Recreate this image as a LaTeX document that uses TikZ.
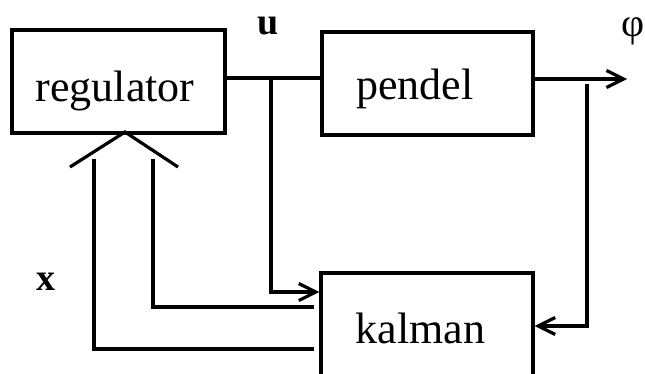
\documentclass[tikz,border=0pt]{standalone}
\usepackage{fontspec}
\setmainfont{Liberation Serif}
\usetikzlibrary{arrows.meta}
\begin{document}
\begin{tikzpicture}[x=1pt,y=-1pt,
  blk/.style={draw, line width=3.2pt, inner sep=0pt},
  txt/.style={font=\fontsize{44}{50}\selectfont, inner sep=0pt, anchor=base},
  wire/.style={line width=3.2pt},
  arr/.style={wire, -{Straight Barb[length=17pt,width=17pt]}},
  lbl/.style={font=\fontsize{38}{44}\selectfont\bfseries, inner sep=0pt, anchor=base}]
\clip (0,0) rectangle (645,374);
% blocks
\node[blk, minimum width=213pt, minimum height=103pt] (reg) at (118.5,81.5) {};
\node[blk, minimum width=211pt, minimum height=103pt] (pendel) at (427.5,83.5) {};
\node[blk, minimum width=212pt, minimum height=112pt] (kal) at (427,329) {};
\node[txt] (regT) at (115,102) {regulator};
\node[txt] (pendT) at (415,100) {pendel};
\node[txt] (kalT) at (420.5,343) {kalman};
% labels
\node[lbl] (lu) at (268,35) {u};
\node[lbl] (lx) at (45.5,290) {x};
\node[font=\fontsize{40}{46}\selectfont, inner sep=0pt, anchor=base] (lphi) at (633,37) {φ};
% helper coordinates
\coordinate (jU) at (271,78);
\coordinate (yA) at (0,292);
\coordinate (yB) at (0,307);
\coordinate (yC) at (0,349);
\coordinate (yD) at (0,326);
\coordinate (tip) at (627,79);
\coordinate (jP) at (587,84);
\coordinate (fa) at (153,159);
\coordinate (fb) at (94,159);
\coordinate (apex) at (125,132);
\coordinate (cl) at (70,167);
\coordinate (cr) at (178,167);
% connectors
\draw[wire] (reg.east |- jU) -- (pendel.west |- jU);
\draw[arr] (jU) |- (kal.west |- yA);
\draw[arr] (pendel.east |- tip) -- (tip);
\draw[arr] (jP) |- (kal.east |- yD);
\draw[wire, shorten <=5pt] (kal.west |- yB) -| (fa);
\draw[wire, shorten <=5pt] (kal.west |- yC) -| (fb);
\draw[wire] (cl) -- (apex) -- (cr);
\end{tikzpicture}
\end{document}
